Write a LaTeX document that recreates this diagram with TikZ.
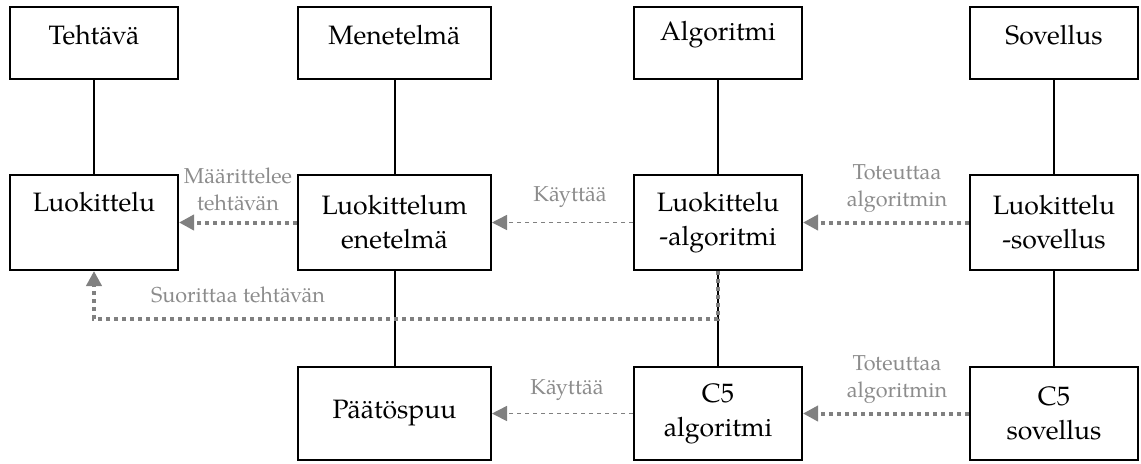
\documentclass[tikz,border=0pt]{standalone}
\usepackage{fontspec}
\setmainfont{TeX Gyre Pagella}
\usetikzlibrary{arrows.meta}
\definecolor{arr}{RGB}{128,128,128}
\definecolor{lab}{RGB}{140,140,140}
\newcommand\liftby[2]{\raisebox{#1}[\height][\depth]{#2}}
\begin{document}
\begin{tikzpicture}[x=0.5pt,y=-0.5pt,
  box/.style={draw=black, line width=1pt, inner sep=0pt, align=center,
    font=\fontsize{13.3}{17}\selectfont},
  narrow/.style={minimum width=84pt},
  wide/.style={minimum width=96.5pt},
  toprow/.style={minimum height=36pt},
  midrow/.style={minimum height=47.5pt},
  botrow/.style={minimum height=46.5pt},
  conn/.style={draw=black, line width=1pt},
  dotarr/.style={draw=arr, line width=2pt, dash pattern=on 2pt off 2pt,
    -{Triangle[length=7.5pt,width=7.5pt]}},
  dasharr/.style={draw=arr, line width=0.75pt, dash pattern=on 2pt off 2pt,
    -{Triangle[length=7.5pt,width=7.5pt]}},
  lbl/.style={text=lab, inner sep=0pt, align=center,
    font=\fontsize{10.8}{13.5}\selectfont}]
\useasboundingbox (0,0) rectangle (1141,463);
% top row
\node[box,narrow,toprow] (teh) at (94,43) {\liftby{4pt}{Tehtävä}};
\node[box,wide,toprow] (men) at (394.5,43) {\liftby{4pt}{Menetelmä}};
\node[box,narrow,toprow] (alg) at (718,43) {\liftby{4pt}{Algoritmi}};
\node[box,narrow,toprow] (sov) at (1054,43) {\liftby{4pt}{Sovellus}};
% middle row
\node[box,narrow,midrow] (luok) at (94,222.5) {\liftby{10pt}{Luokittelu}};
\node[box,wide,midrow] (lme) at (394.5,222.5) {Luokittelum\\enetelmä};
\node[box,narrow,midrow] (lal) at (718,222.5) {Luokittelu\\-algoritmi};
\node[box,narrow,midrow] (lso) at (1054,222.5) {Luokittelu\\-sovellus};
% bottom row
\node[box,wide,botrow] (pp) at (394.5,413.5) {Päätöspuu};
\node[box,narrow,botrow] (c5a) at (718,413.5) {C5\\algoritmi};
\node[box,narrow,botrow] (c5s) at (1054,413.5) {C5\\sovellus};
% solid connectors
\draw[conn] (teh) -- (luok);
\draw[conn] (men) -- (lme);
\draw[conn] (alg) -- (lal);
\draw[conn] (sov) -- (lso);
\draw[conn] (lme) -- (pp);
\draw[conn] (lal) -- (c5a);
\draw[conn] (lso) -- (c5s);
% relation arrows
\draw[dotarr] (lme.west) -- (luok.east);
\draw[dasharr] (lal.west) -- (lme.east);
\draw[dotarr] (lso.west) -- (lal.east);
\draw[dasharr] (c5a.west) -- (pp.east);
\draw[dotarr] (c5s.west) -- (c5a.east);
\coordinate (bend) at (718,319);
\draw[dotarr] (lal.south) -- (bend) -| (luok.south);
% labels
\node[lbl] (l1) at (238,189) {Määrittelee\\tehtävän};
\node[lbl] (l2) at (570,197) {Käyttää};
\node[lbl] (l3) at (897,189) {Toteuttaa\\algoritmin};
\node[lbl] (l4) at (567,390) {Käyttää};
\node[lbl] (l5) at (897,380) {Toteuttaa\\algoritmin};
\node[lbl] (l6) at (238,295) {Suorittaa tehtävän};
\end{tikzpicture}
\end{document}
